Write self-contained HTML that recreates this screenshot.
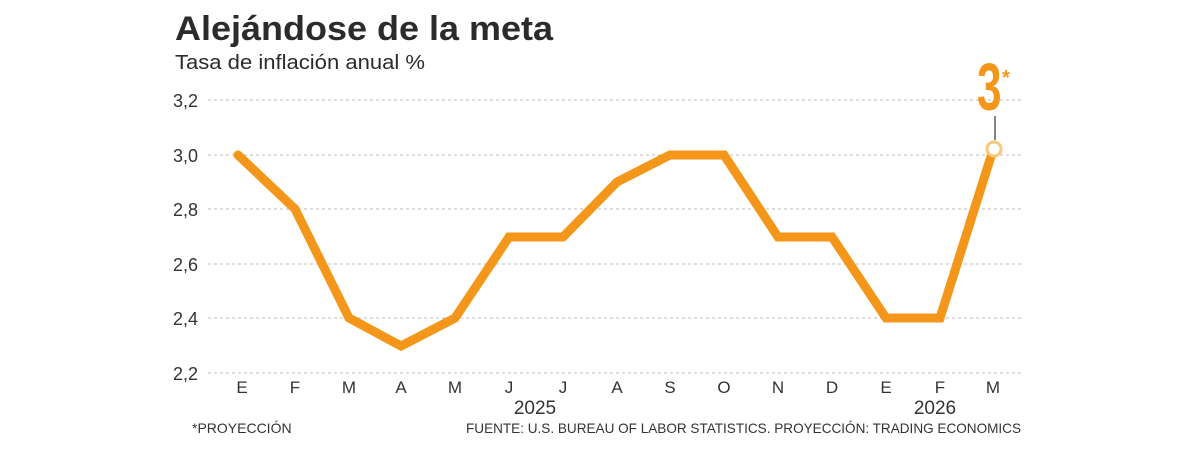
<!DOCTYPE html>
<html><head><meta charset="utf-8"><style>
html,body{margin:0;padding:0;background:#fff;width:1200px;height:461px;overflow:hidden}
svg{display:block;font-family:"Liberation Sans",sans-serif}
</style></head><body>
<svg width="1200" height="461" viewBox="0 0 1200 461">
<text x="175" y="40" font-size="34" font-weight="bold" fill="#2b2b2b" textLength="378" lengthAdjust="spacingAndGlyphs">Alejándose de la meta</text>
<text x="175" y="69" font-size="20" fill="#2b2b2b" textLength="250" lengthAdjust="spacingAndGlyphs">Tasa de inflación anual %</text>
<g stroke="#bbb" stroke-width="1" stroke-dasharray="3,3">
<line x1="208" y1="100" x2="1022" y2="100"/>
<line x1="208" y1="155" x2="1022" y2="155"/>
<line x1="208" y1="209" x2="1022" y2="209"/>
<line x1="208" y1="264" x2="1022" y2="264"/>
<line x1="208" y1="318" x2="1022" y2="318"/>
<line x1="208" y1="373" x2="1022" y2="373"/>
</g>
<g font-size="18" fill="#333">
<text x="173" y="107">3,2</text>
<text x="173" y="162">3,0</text>
<text x="173" y="216">2,8</text>
<text x="173" y="271">2,6</text>
<text x="173" y="325">2,4</text>
<text x="173" y="380">2,2</text>
</g>
<g font-size="17" fill="#333" text-anchor="middle">
<text x="242" y="393">E</text><text x="295" y="393">F</text><text x="349" y="393">M</text><text x="401" y="393">A</text><text x="455" y="393">M</text><text x="509" y="393">J</text><text x="563" y="393">J</text><text x="617" y="393">A</text><text x="670" y="393">S</text><text x="724" y="393">O</text><text x="778" y="393">N</text><text x="832" y="393">D</text><text x="886" y="393">E</text><text x="940" y="393">F</text><text x="993" y="393">M</text>
<text x="535" y="414" font-size="19">2025</text>
<text x="935" y="414" font-size="19">2026</text>
</g>
<polyline fill="none" stroke="#F39619" stroke-width="9" stroke-linejoin="miter" stroke-linecap="round"
points="238,155 295,209 349,318 401,346 455,318 509,237 563,237 617,182 670,155 724,155 778,237 832,237 886,318 940,318 993,150"/>
<line x1="995" y1="116" x2="995" y2="140" stroke="#333" stroke-width="1.2"/>
<circle cx="994" cy="149" r="7" fill="#fff" stroke="#F8C77A" stroke-width="3"/>
<text x="0" y="0" font-size="48" font-weight="bold" fill="#F39619" transform="translate(977,110) scale(0.92,1.4)">3</text>
<text x="1002" y="84" font-size="20" font-weight="bold" fill="#F39619">*</text>
<text x="192" y="433" font-size="14" fill="#333">*PROYECCIÓN</text>
<text x="1021" y="433" font-size="14" fill="#333" text-anchor="end" textLength="555" lengthAdjust="spacingAndGlyphs">FUENTE: U.S. BUREAU OF LABOR STATISTICS. PROYECCIÓN: TRADING ECONOMICS</text>
</svg>
</body></html>
